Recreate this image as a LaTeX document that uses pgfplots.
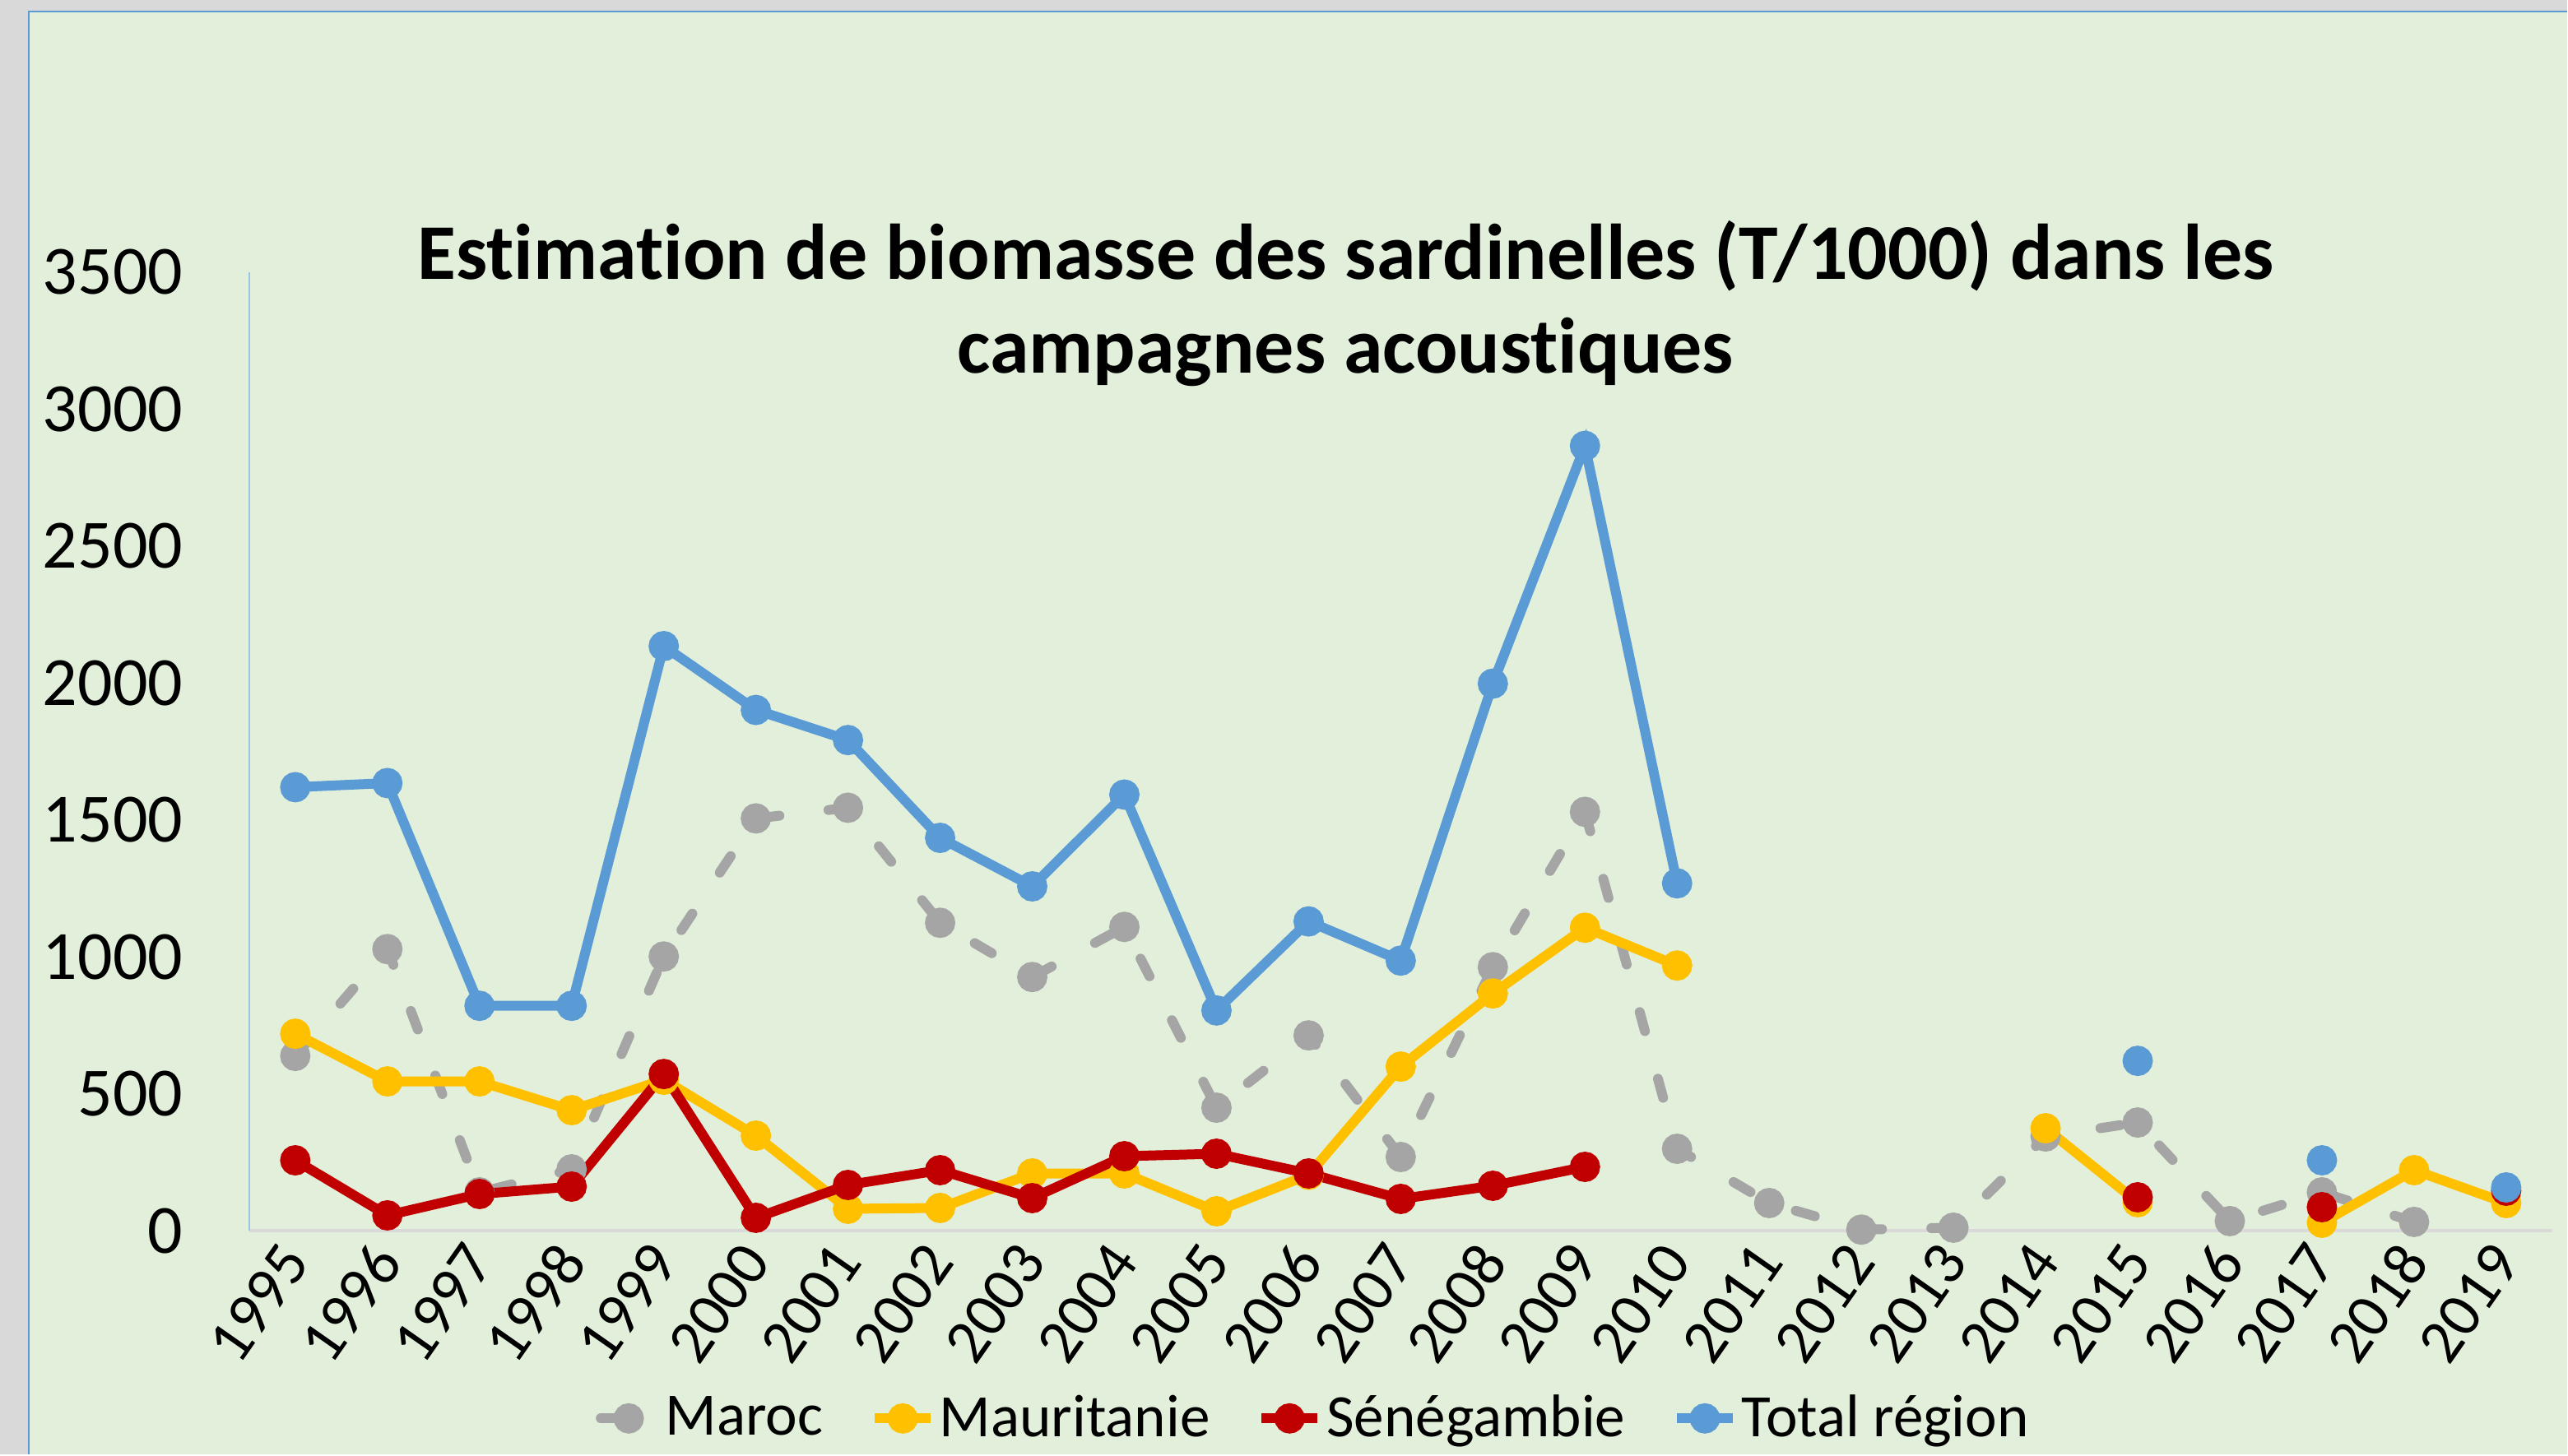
\documentclass[border=0pt]{standalone}
\usepackage{fontspec}
\setmainfont{Carlito}[Ligatures=NoCommon]
\usepackage{pgfplots}
\usepackage{pgfplotstable}
\pgfplotsset{compat=1.18}
\definecolor{cBlue}{HTML}{5B9BD5}
\definecolor{cYellow}{HTML}{FFC000}
\definecolor{cRed}{HTML}{C00000}
\definecolor{cGray}{HTML}{A5A5A5}
\definecolor{chartbg}{HTML}{E2EFDA}
\definecolor{outgray}{HTML}{D9D9D9}
\definecolor{axgray}{HTML}{D9D9D9}
\definecolor{axblue}{HTML}{9DC3E6}

\pgfplotstableread{
year maroc maur seneg total
1995 639 720 258 1620
1996 1029 546 57 1635
1997 141 546 135 822
1998 225 441 162 822
1999 1002 552 573 2135
2000 1506 348 48 1902
2001 1545 81 168 1792
2002 1125 84 222 1435
2003 927 210 120 1258
2004 1110 210 273 1593
2005 450 72 282 805
2006 714 205 210 1130
2007 270 600 117 987
2008 963 867 165 1998
2009 1530 1107 234 2866
2010 300 969 nan 1269
2011 102 nan nan nan
2012 5 nan nan nan
2013 12 nan nan nan
2014 345 375 nan nan
2015 396 105 123 621
2016 36 nan nan nan
2017 141 30 87 258
2018 33 222 nan nan
2019 nan 102 147 159
}\datatable

\begin{document}
\begin{tikzpicture}
\fill[outgray] (0,0) rectangle (780.25pt,442.25pt);
\fill[chartbg] (8.75pt,0) rectangle (780.25pt,438.75pt);
\draw[cBlue, line width=0.6pt] (8.75pt,0) -- (8.75pt,438.75pt) -- (780.25pt,438.75pt);
\useasboundingbox (0,0) rectangle (780.25pt,442.25pt);
\begin{axis}[
  at={(75.75pt,68pt)}, anchor=south west,
  scale only axis, width=700pt, height=291.5pt,
  xmin=1994.5, xmax=2019.5, ymin=0, ymax=3500,
  axis lines=left,
  axis line style={-},
  x axis line style={draw=axgray, line width=1pt},
  y axis line style={draw=axblue, line width=0.6pt},
  xtick={1995,...,2019}, ytick={0,500,...,3500},
  major tick length=0pt,
  /pgf/number format/assume math mode=true,
  /pgf/number format/1000 sep={},
  yticklabel style={font=\fontsize{21}{25}\selectfont, anchor=east, inner sep=0pt, xshift=-20pt},
  xticklabel style={font=\fontsize{19}{23}\selectfont, rotate=55, anchor=east, inner sep=0pt},
  xticklabel shift=6pt,
  clip=false,
  unbounded coords=jump,
  every axis plot/.append style={line width=3pt, mark=*, mark size=3.1pt},
  legend style={at={(0.4625,-0.1955)}, anchor=center, draw=none, fill=none,
    font=\fontsize{18.3}{22}\selectfont, inner sep=0pt,
    /tikz/every even column/.append style={column sep=13pt},
    nodes={inner sep=1.2pt}},
  legend columns=4,
  legend image code/.code={\draw[#1, mark repeat=2, mark phase=2] plot coordinates {(0pt,0pt) (8.5pt,0pt) (17pt,0pt)};},
]
\addplot[cGray, dash pattern=on 6pt off 15pt, line cap=round, mark options={solid, fill=cGray, draw=cGray}] table[x=year, y=maroc] {\datatable};
\addlegendentry{Maroc}
\addplot[cYellow, mark options={fill=cYellow, draw=cYellow}] table[x=year, y=maur] {\datatable};
\addlegendentry{Mauritanie}
\addplot[cRed, mark options={fill=cRed, draw=cRed}] table[x=year, y=seneg] {\datatable};
\addlegendentry{Sénégambie}
\addplot[cBlue, mark options={fill=cBlue, draw=cBlue}] table[x=year, y=total] {\datatable};
\addlegendentry{Total région}
\end{axis}
\node[font=\bfseries\fontsize{24}{28.5}\selectfont, align=center] at (409pt,350pt) {Estimation de biomasse des sardinelles (T/1000) dans les\\campagnes acoustiques};
\end{tikzpicture}
\end{document}
